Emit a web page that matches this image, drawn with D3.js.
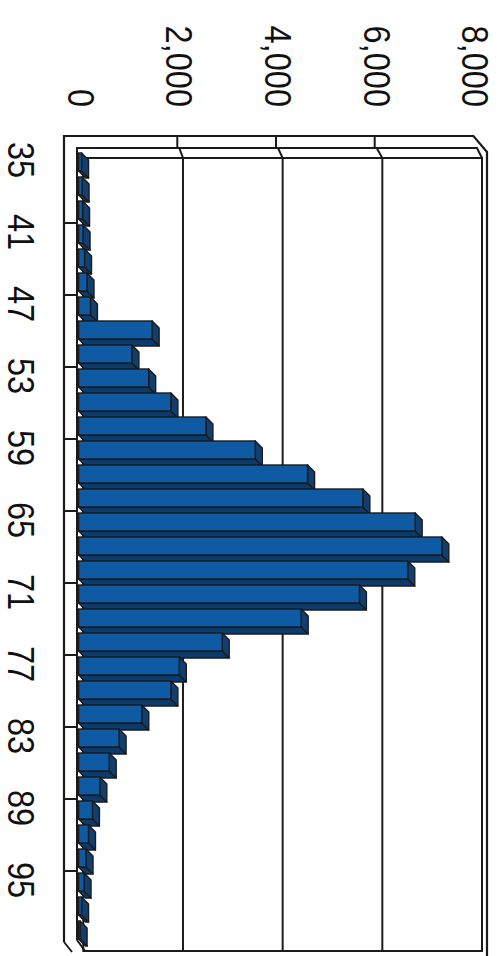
<!DOCTYPE html>
<html>
<head>
<meta charset="utf-8">
<script src="https://cdn.jsdelivr.net/npm/d3@7"></script>
<style>
  html, body { margin: 0; padding: 0; background: #fff; }
  svg { display: block; }
  text { font-family: "Liberation Sans", Arial, sans-serif; fill: #111; }
</style>
</head>
<body>
<div id="chart"></div>
<script>
// ---- data ----
const categories = [35, 37, 39, 41, 43, 45, 47, 49, 51, 53, 55, 57, 59, 61, 63, 65, 67,
                    69, 71, 73, 75, 77, 79, 81, 83, 85, 87, 89, 91, 93, 95, 97, 99];
const counts = [60, 70, 80, 90, 120, 170, 240, 1490, 1080, 1420, 1870, 2580, 3580, 4640, 5760, 6820, 7360,
                6670, 5690, 4510, 2910, 2040, 1870, 1280, 820, 620, 430, 280, 200, 150, 110, 60, 30];
const valueTicks = [0, 2000, 4000, 6000, 8000];
const categoryLabels = [35, 41, 47, 53, 59, 65, 71, 77, 83, 89, 95];

// ---- layout ----
const W = 499, H = 956;
const svg = d3.select("#chart").append("svg").attr("width", W).attr("height", H);

const xF = d3.scaleLinear().domain([0, 8000]).range([78.6, 473.4]);   // front plane
const xB = d3.scaleLinear().domain([0, 8000]).range([83.3, 482]);     // back wall
const y = d3.scaleBand().domain(categories).range([148, 940]).padding(0);
const fmt = d3.format(",");

const lineCol = "#1b1b1b";
const wallTop = 158, wallBottom = 951;

// back wall
svg.append("rect")
  .attr("x", xB(0)).attr("y", wallTop)
  .attr("width", xB(8000) - xB(0)).attr("height", wallBottom - wallTop)
  .attr("fill", "#fff").attr("stroke", lineCol).attr("stroke-width", 2);

// gridlines: side wall segments + back wall verticals
valueTicks.filter(v => v > 0 && v < 8000).forEach(v => {
  svg.append("path")
    .attr("d", `M${xF(v)},136 L${xF(v)},148 L${xF(v) + 2},148 L${xB(v)},${wallTop} L${xB(v)},${wallBottom}`)
    .attr("fill", "none").attr("stroke", lineCol).attr("stroke-width", 2);
});

// outer wall edges
svg.append("path")
  .attr("d", `M64,942 L64,136 L${xF(8000)},136 L487,152 L487,${H}`)
  .attr("fill", "none").attr("stroke", lineCol).attr("stroke-width", 2.2);
svg.append("path")
  .attr("d", `M77,940 L77,148 L477,148 L${xB(8000)},${wallTop}`)
  .attr("fill", "none").attr("stroke", lineCol).attr("stroke-width", 2);
svg.append("path")
  .attr("d", `M64,942 L72,952 M77,940 L85,${wallBottom}`)
  .attr("fill", "none").attr("stroke", lineCol).attr("stroke-width", 2);

// floor tick marks
categories.forEach((c, i) => {
  if (i > 0 && i % 3 === 0) {
    const ty = y(c) + 3;
    svg.append("line").attr("x1", 64).attr("x2", 77).attr("y1", ty).attr("y2", ty)
      .attr("stroke", lineCol).attr("stroke-width", 2);
  }
});

// bars
const d = 7, barH = 18;
const gBars = svg.append("g");
categories.forEach((c, i) => {
  const v = counts[i];
  const x0 = xF(0), x1 = xF(v);
  const y0 = y(c) + 5, y1 = y0 + barH;
  const g = gBars.append("g");
  g.append("polygon")
    .attr("points", [[x0, y1], [x1, y1], [x1 + d, y1 + d], [x0 + d, y1 + d]].map(p => p.join(",")).join(" "))
    .attr("fill", "#0d3b69").attr("stroke", lineCol).attr("stroke-width", 1.4).attr("stroke-linejoin", "round");
  g.append("polygon")
    .attr("points", [[x1, y0], [x1 + d, y0 + d], [x1 + d, y1 + d], [x1, y1]].map(p => p.join(",")).join(" "))
    .attr("fill", "#123f70").attr("stroke", lineCol).attr("stroke-width", 1.4).attr("stroke-linejoin", "round");
  g.append("rect")
    .attr("x", x0).attr("y", y0).attr("width", Math.max(0, x1 - x0)).attr("height", barH)
    .attr("fill", "#0e5aa3").attr("stroke", lineCol).attr("stroke-width", 1.4);
});

// value axis labels (rotated)
svg.append("g").selectAll("text").data(valueTicks).join("text")
  .attr("transform", v => `translate(${xF(v) - 11},107) rotate(90) scale(0.88,1)`)
  .attr("text-anchor", "end")
  .attr("font-size", 37)
  .text(v => fmt(v));

// category labels (rotated)
svg.append("g").selectAll("text").data(categoryLabels).join("text")
  .attr("transform", c => `translate(8,${y(c) + y.bandwidth() / 2}) rotate(90) scale(0.88,1)`)
  .attr("text-anchor", "middle")
  .attr("font-size", 37)
  .text(c => c);
</script>
</body>
</html>
